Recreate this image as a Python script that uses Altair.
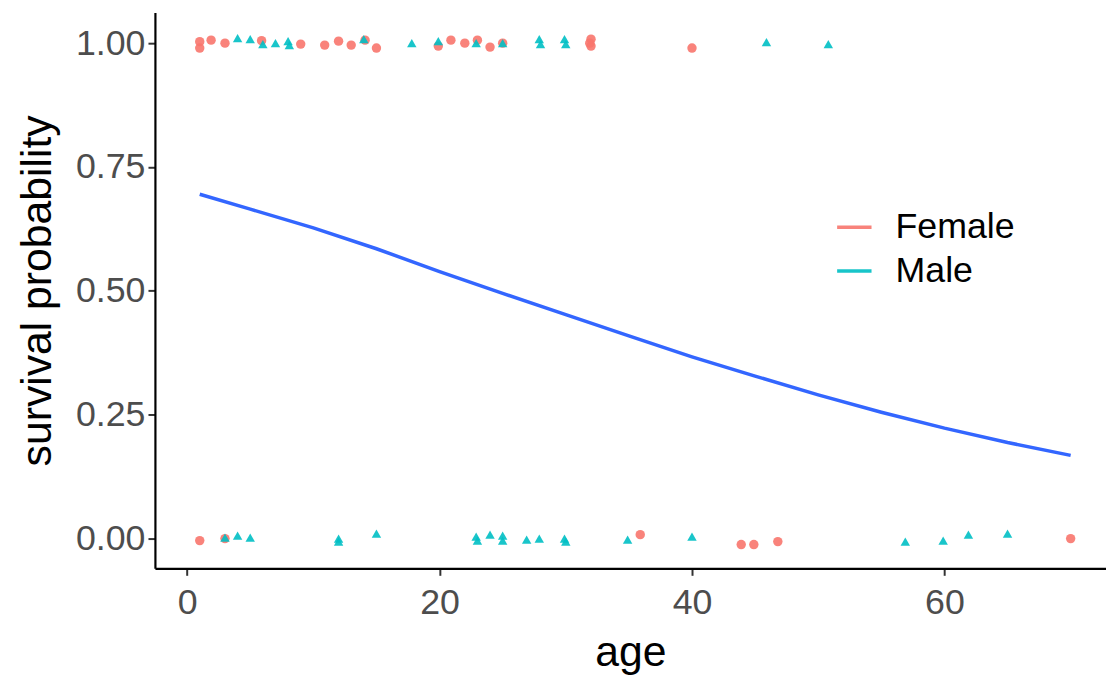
import altair as alt
import pandas as pd

female_top_age = [1.0, 1.0, 1.9, 3.0, 5.9, 9.0, 10.9, 12.0, 13.0, 14.1, 15.0, 19.9, 20.9, 22.0, 23.0, 24.0, 25.0, 32.0, 32.0, 31.9, 40.0]
female_top_y = [0.990, 1.003, 1.006, 1.000, 1.005, 0.998, 0.996, 1.004, 0.996, 1.006, 0.990, 0.994, 1.006, 1.000, 1.006, 0.992, 1.000, 1.008, 0.994, 1.000, 0.990]
male_top_age = [4.0, 5.0, 6.0, 7.0, 8.0, 8.1, 14.0, 17.8, 19.9, 22.9, 25.0, 27.9, 28.0, 29.9, 30.0, 45.9, 50.8]
male_top_y = [1.010, 1.008, 0.998, 1.000, 1.004, 0.996, 1.008, 1.000, 1.004, 1.000, 1.000, 1.008, 0.998, 1.008, 0.998, 1.002, 0.998]
female_bot_age = [1.0, 3.0, 35.9, 43.9, 44.9, 46.8, 70.0]
female_bot_y = [-0.004, 0.000, 0.008, -0.012, -0.012, -0.006, 0.000]
male_bot_age = [3.0, 4.0, 5.0, 12.0, 12.0, 15.0, 22.9, 23.0, 24.0, 25.0, 25.0, 26.9, 27.9, 29.9, 30.0, 34.9, 40.0, 56.9, 59.9, 61.9, 65.0]
male_bot_y = [0.002, 0.006, 0.002, 0.000, -0.006, 0.010, 0.004, -0.004, 0.008, 0.006, -0.004, -0.002, 0.000, 0.000, -0.006, -0.002, 0.004, -0.006, -0.004, 0.008, 0.010]

# Fitted curve
curve_age = [1, 5, 10, 15, 20, 25, 30, 35, 40, 45, 50, 55, 60, 65, 70]
curve_prob = [0.695, 0.665, 0.627, 0.585, 0.539, 0.495, 0.452, 0.409, 0.367, 0.328, 0.290, 0.255, 0.223, 0.194, 0.168]

sexes = ["Female", "Male"]
sex_colors = ["#F8766D", "#00BFC4"]
sex_shapes = ["circle", "triangle-up"]

rows = []
for ages, ys, sex in [(female_top_age, female_top_y, "Female"), (male_top_age, male_top_y, "Male"),
                      (female_bot_age, female_bot_y, "Female"), (male_bot_age, male_bot_y, "Male")]:
    i = sexes.index(sex)
    for a, y in zip(ages, ys):
        rows.append({"age": a, "survived": y, "sex": sex, "col": sex_colors[i], "shp": sex_shapes[i]})
pts = pd.DataFrame(rows)
curve = pd.DataFrame({"age": curve_age, "prob": curve_prob})

xscale = alt.Scale(domain=[-2.55, 72.8], nice=False, zero=False)
yscale = alt.Scale(domain=[-0.06, 1.062], nice=False, zero=False)

xaxis = alt.Axis(values=[0, 20, 40, 60], title="age", format="d", labelPadding=10, titlePadding=12)
yaxis = alt.Axis(values=[0, 0.25, 0.5, 0.75, 1.0], format=".2f", title="survival probability",
                 labelPadding=3, titlePadding=16)

points = alt.Chart(pts).mark_point(filled=True, size=90, opacity=0.9).encode(
    x=alt.X("age:Q", scale=xscale, axis=xaxis),
    y=alt.Y("survived:Q", scale=yscale, axis=yaxis),
    color=alt.Color("col:N", scale=None),
    shape=alt.Shape("shp:N", scale=None),
)

# one-point-per-group line layer: draws nothing, provides the line-style legend
legend_layer = alt.Chart(pts).transform_aggregate(
    age="min(age)", survived="min(survived)", groupby=["sex"]
).mark_line(strokeWidth=3.5).encode(
    x=alt.X("age:Q", scale=xscale),
    y=alt.Y("survived:Q", scale=yscale),
    color=alt.Color("sex:N", scale=alt.Scale(domain=sexes, range=sex_colors),
                    legend=alt.Legend(title=None, orient="none", legendX=685, legendY=197,
                                      symbolType="stroke", symbolSize=1200, symbolStrokeWidth=3.5,
                                      labelFontSize=36, labelFont="Liberation Sans", labelColor="#000000",
                                      rowPadding=6, labelOffset=22)),
)

line = alt.Chart(curve).mark_line(color="#3366FF", strokeWidth=3.5).encode(
    x=alt.X("age:Q", scale=xscale),
    y=alt.Y("prob:Q", scale=yscale),
)

chart = alt.layer(points, legend_layer, line).properties(
    width=958, height=560,
    autosize=alt.AutoSizeParams(type="none"),
    padding={"left": 148, "top": 2, "right": 0, "bottom": 107},
).configure_view(stroke=None).configure_axis(
    grid=False, domainColor="#000000", domainWidth=2.2, tickColor="#333333", tickWidth=2, tickSize=7,
    labelFont="Liberation Sans", labelFontSize=36, labelColor="#4D4D4D",
    titleFont="Liberation Sans", titleFontSize=43, titleColor="#000000", titleFontWeight="normal",
)

chart.save("out.html", embed_options={"renderer": "svg", "actions": False})
